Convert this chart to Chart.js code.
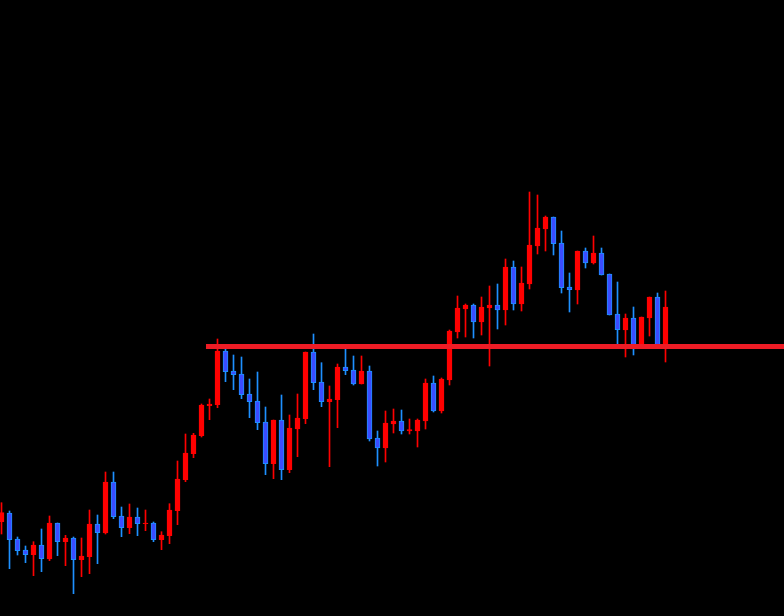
<!DOCTYPE html>
<html>
<head>
<meta charset="utf-8">
<script src="https://cdn.jsdelivr.net/npm/chart.js@4/dist/chart.umd.min.js"></script>
<style>
html,body{margin:0;padding:0;background:#000;}
#wrap{width:784px;height:616px;position:relative;background:#000;}
</style>
</head>
<body>
<div id="wrap"><canvas id="c" width="784" height="616"></canvas></div>
<script>
// Price levels (vertical axis units, larger = lower on chart)
const opens  = [521.7,513,539,550,554.7,545,559,523,541.7,538,559.7,556.7,524,533,482,516,527.7,517,523.7,523,539.7,535.7,510.7,479.7,453.7,435.7,405.7,404.7,351,371,374,394,401,422,463.7,420,469.7,429,418.7,352,382,401.7,399.7,367,370,384,371,438,448,424,421,431,431,421,383,411,380,332,309,305,322,308,305,310,267,304,284,246,229,217,243,287,290,251,263,253,274,314,330,318,347,318,297,347];
const highs  = [502.7,511,537,546,541.7,529,516,523,535.3,537,538,510,515,472,472,507,504,508,510,522,531.7,503.7,461,434,433.3,404,399,339,348,355,357,379,372,407,420,395,415,394,352,334,362.7,386,364,348,356,356,366,431,411,409,410,419,419,379,376,378,330,296,304,304,297,286,284,259,261,267,192,195,216,217,231,273,251,248,236,248,274,282,314,307,317,297,293,291];
const lows   = [534,568.7,555,562.7,575.7,571.7,560.7,555.7,565.7,593.7,576.7,573.7,563.7,534,518.7,536.7,533.7,535.7,530.7,541.7,549.7,543.7,524.7,481.7,457.7,437,419.7,407.7,381.7,389.7,398.7,417.7,429.7,474.7,478.7,479.7,472.7,456.7,423.7,389.7,406.7,466.7,427.7,374.7,385,384,441,466,462,433,434,434,447,429,412,413,385,338,337,338,335,366,329,325,310,311,289,254,251,255,293,312,304,268,264,275,315,346,357,355,348,336,348,362];
const closes = [512.7,539.7,550.7,554.7,545,558.7,523,541.7,538,559.7,556,524,532.7,482,516.7,527.7,517,523.7,523,539.7,535,510,479,453,435,405,404,351,371.7,374.7,394.7,401.7,422.7,463.7,420,469.7,428,418,352,382.7,401.7,399,367,370.7,384,371,439,448,423,421,431,429.7,420,383,411,379,331,308,305,322,307,305,310,267,304,283,245,228,217,243.7,287.7,289.7,251,263,253,275,315,329.7,318,346,317,297,346,307];
// Horizontal level line
const levelValue = 346.5;
const levelStartIndex = 25.56;
const levelEndIndex = 98;

const idx = opens.map((_, i) => i);
const isUp = idx.map(i => closes[i] < opens[i]); // reversed axis: smaller value = higher
const RED = '#ff0000';
const BLUE_FILL = '#3b4cff';
const BLUE_EDGE = '#1e90ff';

const bodies = idx.map(i => ({x: i, y: [opens[i], closes[i]]}));
const wicks = idx.map(i => ({x: i, y: [lows[i], highs[i]]}));

new Chart(document.getElementById('c'), {
  type: 'bar',
  data: {
    datasets: [
      {
        type: 'line',
        order: 0,
        data: [{x: levelStartIndex, y: levelValue}, {x: levelEndIndex, y: levelValue}],
        borderColor: '#ee1c25',
        borderWidth: 5,
        pointRadius: 0,
        borderCapStyle: 'butt',
        fill: false
      },
      {
        order: 1,
        data: bodies,
        grouped: false,
        barThickness: 5,
        backgroundColor: idx.map(i => isUp[i] ? RED : BLUE_FILL),
        borderColor: idx.map(i => isUp[i] ? RED : BLUE_EDGE),
        borderWidth: 1,
        borderSkipped: false
      },
      {
        order: 2,
        data: wicks,
        grouped: false,
        barThickness: 1,
        backgroundColor: idx.map(i => isUp[i] ? RED : BLUE_EDGE),
        borderWidth: 0
      }
    ]
  },
  options: {
    responsive: false,
    animation: false,
    events: [],
    layout: {padding: 0},
    plugins: {legend: {display: false}, tooltip: {enabled: false}},
    scales: {
      x: {type: 'linear', display: false, min: -0.1875, max: 97.8125, offset: false},
      y: {type: 'linear', display: false, reverse: true, min: 0, max: 616}
    }
  }
});
</script>
</body>
</html>
